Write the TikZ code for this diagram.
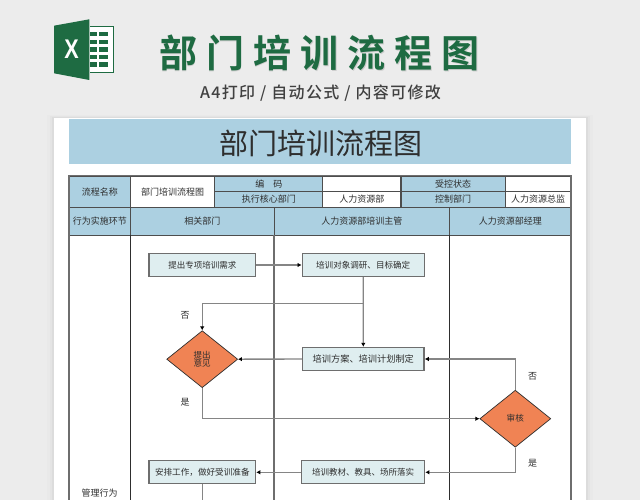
\documentclass[tikz,border=0pt]{standalone}
\usepackage{fontspec}
\usetikzlibrary{arrows.meta,shapes.geometric,calc}
\setmainfont{Liberation Sans}
\newfontfamily\cjk{Noto Sans CJK SC}
\newfontfamily\cjkb{Noto Sans CJK SC Bold}[LetterSpace=24]
\newfontfamily\cjkm{Noto Sans CJK SC Medium}[LetterSpace=8.5]
\newcommand\tightlines{\lineskiplimit -20pt\relax}
\definecolor{pagebg}{HTML}{ECECEC}
\definecolor{xlgreen}{HTML}{1E6B42}
\definecolor{band}{HTML}{ACD0E1}
\definecolor{boxfill}{HTML}{DFEEF0}
\definecolor{orangefill}{HTML}{F08354}
\definecolor{inkdark}{HTML}{2E2E2E}
\definecolor{gridgrey}{HTML}{6E6E6E}
\definecolor{flowgrey}{HTML}{858585}
\tikzset{
  x=1pt,y=-1pt,
  cell/.style={draw=inkdark!85,line width=0.9pt,inner sep=0pt,font=\cjk\fontsize{9}{10}\selectfont,text=inkdark,anchor=center},
  bluecell/.style={cell,fill=band},
  whitecell/.style={cell,fill=white},
  stepbox/.style={draw=gridgrey,line width=1.3pt,fill=boxfill,inner sep=0pt,minimum height=23pt,font=\cjk\fontsize{9}{10}\selectfont,text=inkdark},
  choice/.style={diamond,draw=inkdark,line width=0.7pt,fill=orangefill,inner sep=0pt,minimum width=71pt,minimum height=57pt,font=\cjk\fontsize{8.6}{8.4}\selectfont\tightlines,text=inkdark,align=center},
  flow/.style={draw=flowgrey,line width=1.3pt},
  flowarrow/.style={flow,-{Latex[length=4pt,width=4.5pt,black]}},
  note/.style={font=\cjk\fontsize{9}{10}\selectfont,text=inkdark,inner sep=0pt},
  lane/.style={line width=1pt,draw=inkdark},
  outer/.style={line width=1.2pt,draw=gridgrey},
}
\begin{document}
\begin{tikzpicture}
\useasboundingbox (0,0) rectangle (640,500);
\fill[pagebg] (0,0) rectangle (640,500);
% paper shadow
\fill[black,opacity=0.012] (47,115) rectangle (593,500);
\fill[black,opacity=0.02] (50,116) rectangle (590,500);
\fill[black,opacity=0.03] (52,117) rectangle (588,500);
\fill[white] (54,118) rectangle (586,500);
% logo
\fill[xlgreen] (90,25.7) rectangle (114,73);
\fill[white] (90,27) rectangle (112.8,71.8);
\foreach \r in {32,39.7,47.4,55,62.4}{
  \fill[xlgreen] (90,\r) rectangle (97.3,\r+4.4);
  \fill[xlgreen] (98.7,\r) rectangle (107.7,\r+4.4);
}
\fill[xlgreen] (54,25.7) -- (89.3,19.3) -- (89.3,80) -- (54,73.3) -- cycle;
\node[text=white,inner sep=0pt,font=\bfseries\fontsize{27}{27}\selectfont,xscale=0.8] (logox) at (71.5,49.5) {X};
% heading
\node[text=black!20,inner sep=0pt,font=\cjkb\fontsize{38}{40}\selectfont] (headshadow) at (320,53.6) {部门培训流程图};
\node[text=xlgreen,inner sep=0pt,font=\cjkb\fontsize{38}{40}\selectfont] (head) at (319.5,53) {部门培训流程图};
\node[text=black!75,inner sep=0pt,font=\cjkm\fontsize{16}{18}\selectfont] (sub) at (320.5,93.5) {A4打印 / 自动公式 / 内容可修改};
% title band
\fill[band] (69,119) rectangle (571,164);
\node[text=inkdark,inner sep=0pt,font=\cjk\fontsize{29}{32}\selectfont] (bandtitle) at (320.5,143) {部门培训流程图};
% table head
\node[bluecell,minimum width=61.5pt,minimum height=31.3pt] (c1) at (99.75,191.65) {流程名称};
\node[whitecell,minimum width=84pt,minimum height=31.3pt] (c2) at (172.5,191.65) {部门培训流程图};
\node[bluecell,minimum width=108pt,minimum height=15.7pt] (c3) at (268.8,183.85) {编\quad 码};
\node[bluecell,minimum width=108pt,minimum height=15.6pt] (c4) at (268.8,199.5) {执行核心部门};
\node[whitecell,minimum width=78pt,minimum height=15.7pt] (c5) at (361.8,183.85) {};
\node[whitecell,minimum width=78pt,minimum height=15.6pt] (c6) at (361.8,199.5) {人力资源部};
\node[bluecell,minimum width=104pt,minimum height=15.7pt] (c7) at (453,183.85) {受控状态};
\node[bluecell,minimum width=104pt,minimum height=15.6pt] (c8) at (453,199.5) {控制部门};
\node[whitecell,minimum width=66pt,minimum height=15.7pt] (c9) at (538,183.85) {};
\node[whitecell,minimum width=66pt,minimum height=15.6pt] (c10) at (538,199.5) {人力资源总监};
\node[bluecell,minimum width=61.5pt,minimum height=27.8pt] (h1) at (99.75,221.2) {行为实施环节};
\node[bluecell,minimum width=143.5pt,minimum height=27.8pt] (h2) at (202.25,221.2) {相关部门};
\node[bluecell,minimum width=175.5pt,minimum height=27.8pt] (h3) at (361.75,221.2) {人力资源部培训主管};
\node[bluecell,minimum width=121.5pt,minimum height=27.8pt] (h4) at (510.25,221.2) {人力资源部经理};
% lanes
\draw[outer] (69,175.5) -- (571,175.5);
\draw[outer] (69,175.5) -- (69,500);
\draw[outer] (571,175.5) -- (571,500);
\draw[lane] (130.5,235) -- (130.5,500);
\draw[outer] (274,235) -- (274,500);
\draw[lane] (449.5,235) -- (449.5,500);
% flow nodes
\node[stepbox,minimum width=106.7pt] (b1) at (202.3,265) {\fontsize{8.5}{10}\selectfont 提出专项培训需求};
\node[stepbox,minimum width=122pt] (b2) at (363.2,265) {\fontsize{8.55}{10}\selectfont 培训对象调研、目标确定};
\node[stepbox,minimum width=121.6pt] (b3) at (363.3,359) {\fontsize{9.2}{10}\selectfont 培训方案、培训计划制定};
\node[stepbox,minimum width=123pt] (b4) at (363.2,472.3) {\fontsize{8.5}{10}\selectfont 培训教材、教具、场所落实};
\node[stepbox,minimum width=106.7pt] (b5) at (202.3,472.3) {\fontsize{8.6}{10}\selectfont 安排工作，做好受训准备};
\node[choice] (d1) at (202.2,359.2) {提出\\意见};
\node[choice] (d2) at (515.3,418.7) {审核};
\coordinate (join) at (363.2,303.7);
\coordinate (stem) at (202.3,500);
% connectors
\draw[flowarrow] (b1) -- (b2);
\draw[flowarrow] (b2) -- (b3);
\draw[flowarrow] (join) -| (d1.north);
\draw[flowarrow] (b3) -- (d1);
\draw[flowarrow] (d1.south) |- (d2.west);
\draw[flowarrow] (d2.north) |- (b3.east);
\draw[flowarrow] (d2.south) |- (b4.east);
\draw[flowarrow] (b4) -- (b5);
\draw[flow] (b5) -- (stem);
% labels
\node[note] (n1) at (185,315) {否};
\node[note] (n2) at (185,402) {是};
\node[note] (n3) at (532.7,376.7) {否};
\node[note] (n4) at (532.7,463.3) {是};
\node[note] (n5) at (99.5,493.5) {管理行为};
\end{tikzpicture}
\end{document}
